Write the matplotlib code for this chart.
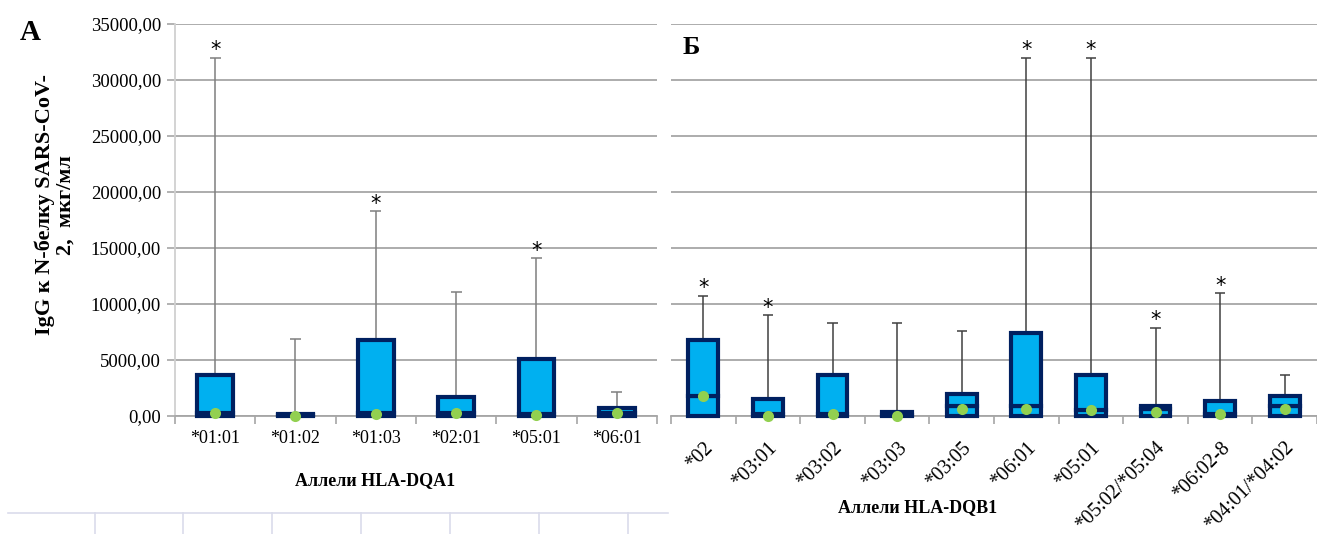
import matplotlib
matplotlib.use("Agg")
import matplotlib.pyplot as plt
from matplotlib.lines import Line2D
import numpy as np

plt.rcParams['font.family'] = ['Liberation Serif', 'DejaVu Serif']

# ---- data: panel A (HLA-DQA1) ----
cats_a = ["*01:01", "*01:02", "*01:03", "*02:01", "*05:01", "*06:01"]
q3_a = [3650, 200, 6780, 1700, 5100, 700]
low_a = [300, 100, 250, 300, 200, 300]
dot_a = [250, 0, 200, 250, 120, 250]
max_a = [32000, 6900, 18300, 11050, 14100, 2150]
star_a = [True, False, True, False, True, False]

# ---- data: panel B (HLA-DQB1) ----
cats_b = ["*02", "*03:01", "*03:02", "*03:03", "*03:05", "*06:01", "*05:01",
          "*05:02/*05:04", "*06:02-8", "*04:01/*04:02"]
q3_b = [6750, 1550, 3650, 330, 1950, 7400, 3650, 920, 1350, 1780]
low_b = [1800, 150, 150, 100, 850, 900, 500, 650, 150, 850]
dot_b = [1800, 30, 150, 0, 600, 650, 530, 320, 180, 620]
max_b = [10750, 9000, 8300, 8300, 7600, 32000, 32000, 7900, 11000, 3650]
star_b = [True, True, False, False, False, True, True, True, True, False]

yticks = [0, 5000, 10000, 15000, 20000, 25000, 30000, 35000]

W, H = 1317, 534
fig = plt.figure(figsize=(W / 100, H / 100), dpi=100)

FILL = '#00B0F0'
EDGE = '#002060'
DOT = '#92D050'
GRID = '#A6A6A6'


def fx(px):
    return px / W


def fy(py):
    return 1 - py / H


y0, y1 = 416, 24
axA = fig.add_axes([fx(175), fy(y0), fx(657 - 175), (y0 - y1) / H])
axB = fig.add_axes([fx(671), fy(y0), fx(1317 - 671), (y0 - y1) / H])


def draw(ax, cats, q3, low, dot, vmax, star, width, capw, wcol):
    x = np.arange(len(cats))
    ax.set_xlim(-0.5, len(cats) - 0.5)
    ax.set_ylim(0, 35000)
    ax.set_yticks(yticks)
    ax.yaxis.grid(True, color=GRID, linewidth=1.3, zorder=0)
    ax.set_axisbelow(True)
    # whiskers
    ax.vlines(x, q3, vmax, color=wcol, linewidth=1.1, zorder=2)
    ax.hlines(vmax, x - capw / 2, x + capw / 2, color=wcol, linewidth=1.1, zorder=2)
    # stacked boxes
    lowv = np.array(low)
    ax.bar(x, lowv, width=width, color=FILL, edgecolor=EDGE, linewidth=3,
           zorder=3, clip_on=False)
    ax.bar(x, np.array(q3) - lowv, bottom=lowv, width=width, color=FILL,
           edgecolor=EDGE, linewidth=3, zorder=3, clip_on=False)
    ax.scatter(x, dot, s=64, color=DOT, zorder=5, clip_on=False, linewidths=0)
    for xi, vm, st in zip(x, vmax, star):
        if st:
            ax.annotate('*', (xi, vm), xytext=(0, -2), textcoords='offset points',
                        ha='center', va='bottom', fontsize=15, family='DejaVu Sans')
    ax.set_xticks(x)
    ax.set_xticks(np.arange(len(cats) + 1) - 0.5, minor=True)
    ax.tick_params(axis='x', which='major', length=0, pad=10)
    ax.tick_params(axis='x', which='minor', length=6, color=GRID, width=1.2)
    for s in ['top', 'right']:
        ax.spines[s].set_visible(False)
    ax.spines['bottom'].set_color(GRID)
    ax.spines['bottom'].set_linewidth(1.3)


draw(axA, cats_a, q3_a, low_a, dot_a, max_a, star_a, 0.44, 0.14, '#7F7F7F')
draw(axB, cats_b, q3_b, low_b, dot_b, max_b, star_b, 0.46, 0.16, '#404040')

axA.set_xticklabels(cats_a, fontsize=13)
axA.set_yticklabels([f"{v:.2f}".replace('.', ',') for v in yticks], fontsize=13.5)
axA.tick_params(axis='y', length=6, color=GRID, width=1.2, pad=4)
axA.spines['left'].set_color('#D0D0D0')
axA.spines['left'].set_linewidth(1.3)

axB.set_xticklabels(cats_b, fontsize=14.5, rotation=45, ha='right',
                    rotation_mode='anchor')
axB.tick_params(axis='x', which='major', pad=16)
axB.tick_params(axis='y', length=0, labelleft=False)
axB.spines['left'].set_visible(False)

# axis titles
fig.text(fx(375), fy(481), "Аллели HLA-DQA1", ha='center', va='center',
         fontsize=13, fontweight='bold')
fig.text(fx(918), fy(508), "Аллели HLA-DQB1", ha='center', va='center',
         fontsize=13, fontweight='bold')
fig.text(fx(55), fy(205), "IgG к N-белку SARS-CoV-\n2,  мкг/мл", ha='center',
         va='center', rotation=90, fontsize=16, fontweight='bold',
         multialignment='center', linespacing=1.0)

# panel letters
fig.text(fx(20), fy(32), "А", ha='left', va='center', fontsize=21, fontweight='bold')
fig.text(fx(683), fy(48), "Б", ha='left', va='center', fontsize=19, fontweight='bold')

# spreadsheet cell lines at bottom
SHEET = '#DADCEB'
fig.add_artist(Line2D([fx(8), fx(668)], [fy(513), fy(513)], color=SHEET, lw=1.2))
for px in [95, 183, 272, 361, 450, 539, 628]:
    fig.add_artist(Line2D([fx(px), fx(px)], [fy(513), fy(534)], color=SHEET, lw=1.2))

fig.savefig("out.png", dpi=100)
